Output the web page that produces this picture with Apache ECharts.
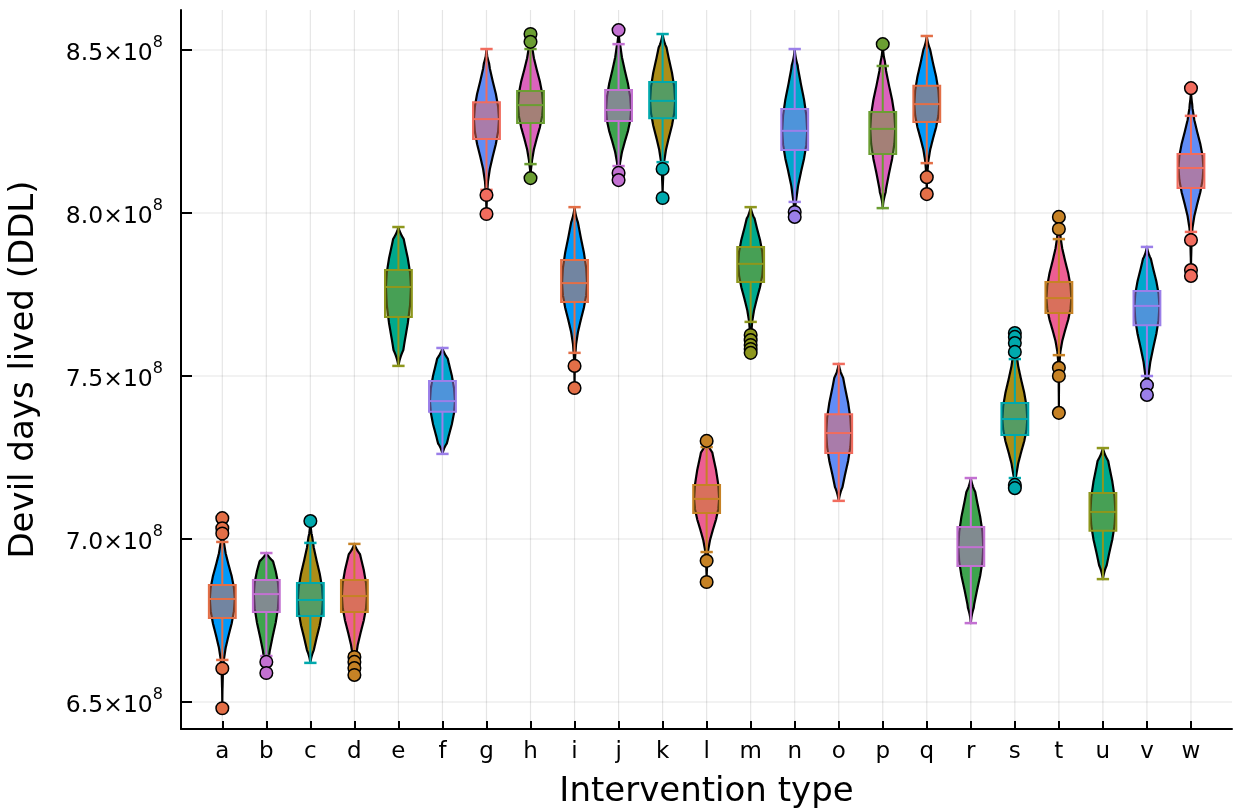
<!DOCTYPE html>
<html><head><meta charset="utf-8">
<script src="https://cdn.jsdelivr.net/npm/echarts@6/dist/echarts.min.js"></script>
<style>html,body{margin:0;padding:0;background:#fff}#c{width:1233px;height:812px}</style>
</head><body><div id="c"></div>
<script>
// ---- data (values in units of 1e8 DDL) ----
const categories = ['a','b','c','d','e','f','g','h','i','j','k','l','m','n','o','p','q','r','s','t','u','v','w'];
const whiskerLow  = [6.629,6.641,6.620,6.647,7.531,7.261,8.071,8.150,7.571,8.144,8.156,6.960,7.666,8.034,7.117,8.015,8.153,6.742,7.187,7.564,6.877,7.500,7.942];
const q1          = [6.758,6.776,6.764,6.776,7.681,7.390,8.227,8.276,7.727,8.282,8.291,7.080,7.788,8.193,7.264,8.181,8.279,6.917,7.319,7.693,7.025,7.656,8.077];
const median      = [6.816,6.831,6.813,6.825,7.773,7.423,8.288,8.331,7.785,8.316,8.344,7.123,7.844,8.252,7.325,8.258,8.334,6.975,7.368,7.739,7.083,7.715,8.138];
const q3          = [6.859,6.874,6.865,6.874,7.825,7.485,8.340,8.374,7.856,8.377,8.402,7.166,7.896,8.319,7.383,8.310,8.390,7.037,7.417,7.788,7.141,7.761,8.181];
const whiskerHigh = [6.991,6.957,6.988,6.985,7.957,7.586,8.503,8.503,8.018,8.518,8.549,7.282,8.018,8.503,7.537,8.451,8.543,7.187,7.552,7.920,7.279,7.896,8.298];
const outliers = [
  [7.064,7.033,7.017,6.603,6.481],
  [6.623,6.589],
  [7.055],
  [6.638,6.623,6.604,6.583],
  [],
  [],
  [8.055,7.997],
  [8.549,8.525,8.107],
  [7.531,7.463],
  [8.561,8.123,8.101],
  [8.135,8.046],
  [7.301,6.933,6.868],
  [7.626,7.610,7.595,7.583,7.571],
  [8.003,7.988],
  [],
  [8.518],
  [8.110,8.058],
  [],
  [7.632,7.620,7.601,7.574,7.166,7.156],
  [7.988,7.951,7.525,7.500,7.387],
  [],
  [7.472,7.442],
  [8.383,7.917,7.825,7.807]
];
// violin body spread read per side (1 = slender, >1 = fuller)
const fatUp   = [1.0,1.4,1.15,1.25,1.2,1.2,0.9,1.05,1.0,1.0,1.05,1.4,1.05,0.95,1.1,1.15,1.0,1.1,1.1,1.05,1.2,1.05,1.15];
const fatDown = [1.0,1.15,1.0,1.05,1.15,1.1,0.88,0.94,0.88,0.94,1.0,0.97,1.0,0.97,1.03,0.94,0.97,0.94,0.94,0.94,1.03,1.0,0.94];
// common violin outline profile (distance from median / distance to whisker cap -> relative half width)
const profZ = [0, 0.2, 0.4, 0.6, 0.8, 1.0, 1.2, 1.5, 2.0];
const profW = [1, 0.93, 0.75, 0.5, 0.27, 0.12, 0.05, 0.015, 0];
const yTicks = [6.5, 7.0, 7.5, 8.0, 8.5];
const xTicks = categories.map((c, i) => i + 1);

const palette = ['#009AFA','#E36F47','#3EA44E','#C371D2','#AC8E18','#00A9AD','#ED5E93','#C68225','#00A98D','#8E971D','#00A8CB','#9B7FE9','#618DF6','#F16C5E','#DC63BD','#6B9E32'];
const FONT = 'DejaVu Sans';
const X_MIN = 0.062, X_MAX = 23.932, Y_MIN = 6.4172, Y_MAX = 8.6227;
const VIOLIN_HALF = 0.284, BOX_HALF = 0.305, CAP_HALF = 0.14;

function rgba(hex, a) {
  const n = parseInt(hex.slice(1), 16);
  return 'rgba(' + (n >> 16 & 255) + ',' + (n >> 8 & 255) + ',' + (n & 255) + ',' + a + ')';
}
function profileAt(z) {
  if (z >= profZ[profZ.length - 1]) return 0;
  for (let k = 1; k < profZ.length; k++) {
    if (z <= profZ[k]) {
      const t = (z - profZ[k - 1]) / (profZ[k] - profZ[k - 1]);
      return profW[k - 1] + t * (profW[k] - profW[k - 1]);
    }
  }
  return 0;
}

function renderCat(params, api) {
  const i = api.value(0);
  const x = i + 1;
  const unit = api.size([1, 0])[0];
  const vc = palette[(2 * i) % 16], bc = palette[(2 * i + 1) % 16];
  const med = median[i], outs = outliers[i];
  const vTop = Math.max(whiskerHigh[i], ...outs);
  const vBot = Math.min(whiskerLow[i], ...outs);
  const N = 220, left = [], right = [];
  for (let k = 0; k <= N; k++) {
    const v = vTop + (vBot - vTop) * k / N;
    const up = v >= med;
    const d = Math.abs(v - med);
    const dCap = up ? whiskerHigh[i] - med : med - whiskerLow[i];
    const dExt = up ? vTop - med : med - vBot;
    const f = up ? fatUp[i] : fatDown[i];
    let w = profileAt(d / dCap / f);
    const u = dExt > 0 ? 1 - d / dExt : 1;
    w *= Math.min(1, u / 0.2);
    const p = api.coord([x, v]);
    const hw = w * VIOLIN_HALF * unit;
    left.push([p[0] - hw, p[1]]);
    right.push([p[0] + hw, p[1]]);
  }
  const poly = left.concat(right.reverse());
  const children = [];
  children.push({ type: 'polygon', shape: { points: poly },
    style: { fill: vc, stroke: '#000', lineWidth: 2.2, lineJoin: 'round' } });
  const pQ3 = api.coord([x, q3[i]]), pQ1 = api.coord([x, q1[i]]);
  const pMed = api.coord([x, med]);
  const pHi = api.coord([x, whiskerHigh[i]]), pLo = api.coord([x, whiskerLow[i]]);
  const bh = BOX_HALF * unit, ch = CAP_HALF * unit;
  // whiskers
  children.push({ type: 'line', shape: { x1: pQ3[0], y1: pQ3[1], x2: pHi[0], y2: pHi[1] }, style: { stroke: bc, lineWidth: 2 } });
  children.push({ type: 'line', shape: { x1: pQ1[0], y1: pQ1[1], x2: pLo[0], y2: pLo[1] }, style: { stroke: bc, lineWidth: 2 } });
  children.push({ type: 'line', shape: { x1: pHi[0] - ch, y1: pHi[1], x2: pHi[0] + ch, y2: pHi[1] }, style: { stroke: bc, lineWidth: 2.5 } });
  children.push({ type: 'line', shape: { x1: pLo[0] - ch, y1: pLo[1], x2: pLo[0] + ch, y2: pLo[1] }, style: { stroke: bc, lineWidth: 2.5 } });
  // box
  children.push({ type: 'rect', shape: { x: pQ3[0] - bh, y: pQ3[1], width: 2 * bh, height: pQ1[1] - pQ3[1] },
    style: { fill: rgba(bc, 0.5), stroke: bc, lineWidth: 2 } });
  children.push({ type: 'line', shape: { x1: pMed[0] - bh, y1: pMed[1], x2: pMed[0] + bh, y2: pMed[1] }, style: { stroke: bc, lineWidth: 2 } });
  // outliers
  outs.forEach(o => {
    const p = api.coord([x, o]);
    children.push({ type: 'circle', shape: { cx: p[0], cy: p[1], r: 6.3 },
      style: { fill: bc, stroke: '#000', lineWidth: 1.5 } });
  });
  return { type: 'group', children };
}

function renderGrid(params, api) {
  const children = [];
  const st = { stroke: 'rgba(0,0,0,0.1)', lineWidth: 1.2 };
  xTicks.forEach(t => {
    const a = api.coord([t, Y_MIN]), b = api.coord([t, Y_MAX]);
    children.push({ type: 'line', shape: { x1: a[0], y1: a[1], x2: b[0], y2: b[1] }, style: st });
  });
  yTicks.forEach(t => {
    const a = api.coord([X_MIN, t]), b = api.coord([X_MAX, t]);
    children.push({ type: 'line', shape: { x1: a[0], y1: a[1], x2: b[0], y2: b[1] }, style: st });
  });
  return { type: 'group', children };
}

const chart = echarts.init(document.getElementById('c'), null, { renderer: 'canvas' });
chart.setOption({
  animation: false,
  backgroundColor: '#fff',
  grid: { left: 181, right: 1, top: 10, bottom: 83, containLabel: false, outerBoundsMode: 'none' },
  xAxis: {
    type: 'value', min: X_MIN, max: X_MAX,
    name: 'Intervention type', nameLocation: 'middle', nameGap: 46,
    nameTextStyle: { fontFamily: FONT, fontSize: 34, color: '#000' },
    axisLine: { show: true, onZero: false, lineStyle: { color: '#000', width: 2 } },
    axisTick: { show: true, inside: true, length: 8, customValues: xTicks, lineStyle: { color: '#000', width: 2 } },
    axisLabel: { customValues: xTicks, formatter: v => categories[Math.round(v) - 1] || '',
      fontFamily: FONT, fontSize: 23, color: '#000', margin: 12 },
    splitLine: { show: false }
  },
  yAxis: {
    type: 'value', min: Y_MIN, max: Y_MAX,
    name: 'Devil days lived (DDL)', nameLocation: 'middle', nameGap: 140,
    nameTextStyle: { fontFamily: FONT, fontSize: 34, color: '#000' },
    axisLine: { show: true, onZero: false, lineStyle: { color: '#000', width: 2 } },
    axisTick: { show: true, inside: true, length: 11, customValues: yTicks, lineStyle: { color: '#000', width: 2 } },
    axisLabel: { customValues: yTicks, margin: 18,
      formatter: v => '{m|' + v.toFixed(1) + '×10}{s|8}',
      rich: {
        m: { fontFamily: FONT, fontSize: 23.5, color: '#000', padding: [8, 0, 0, 0] },
        s: { fontFamily: FONT, fontSize: 16, color: '#000', padding: [0, 0, 14, 0] }
      } },
    splitLine: { show: false }
  },
  series: [
    { type: 'custom', name: 'grid', z: 1, silent: true, renderItem: renderGrid, data: [[1, 7]] },
    { type: 'custom', name: 'violins', z: 2, renderItem: renderCat,
      data: categories.map((c, i) => [i, median[i]]) }
  ]
});
</script>
</body></html>
